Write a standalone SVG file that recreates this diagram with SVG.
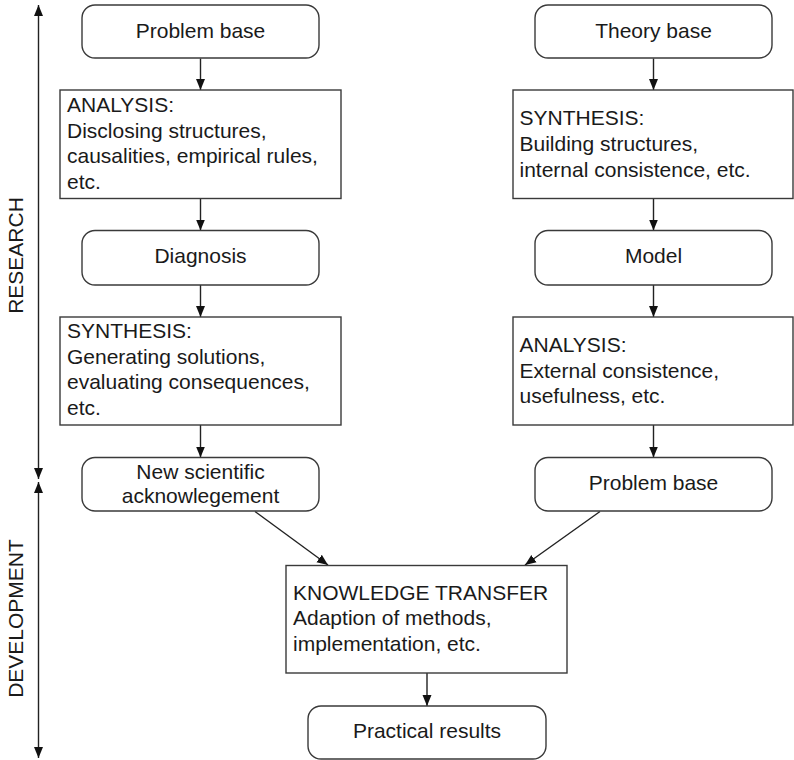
<svg xmlns="http://www.w3.org/2000/svg" width="794" height="760" viewBox="0 0 794 760">
<style>
.box{fill:#fff;stroke:#3a3a3a;stroke-width:1.4}
.t{font-family:"Liberation Sans",Arial,sans-serif;font-size:21px;fill:#1a1a1a}
.c{text-anchor:middle}
.ln{stroke:#222;stroke-width:1.4;fill:none}
</style>
<defs>
<marker id="ah" markerUnits="userSpaceOnUse" markerWidth="12" markerHeight="12" viewBox="0 0 12 12" refX="11" refY="6" orient="auto">
<path d="M0,1.5 L11,6 L0,10.5 Z" fill="#111"/>
</marker>
<marker id="ahs" markerUnits="userSpaceOnUse" markerWidth="12" markerHeight="12" viewBox="0 0 12 12" refX="1" refY="6" orient="auto">
<path d="M12,1.5 L1,6 L12,10.5 Z" fill="#111"/>
</marker>
</defs>
<rect width="794" height="760" fill="#fff"/>

<g id="axis">
<line class="ln" x1="38.5" y1="5" x2="38.5" y2="479" marker-start="url(#ahs)" marker-end="url(#ah)"/>
<line class="ln" x1="38.5" y1="482" x2="38.5" y2="758" marker-start="url(#ahs)" marker-end="url(#ah)"/>
<text class="t c" transform="translate(23,255.5) rotate(-90)">RESEARCH</text>
<text class="t c" transform="translate(23,618.5) rotate(-90)">DEVELOPMENT</text>
</g>

<g id="connectors">
<line class="ln" x1="200.5" y1="58.5" x2="200.5" y2="90" marker-end="url(#ah)"/>
<line class="ln" x1="200.5" y1="198.5" x2="200.5" y2="230.5" marker-end="url(#ah)"/>
<line class="ln" x1="200.5" y1="285" x2="200.5" y2="317" marker-end="url(#ah)"/>
<line class="ln" x1="200.5" y1="425" x2="200.5" y2="457.5" marker-end="url(#ah)"/>
<line class="ln" x1="653.5" y1="58.5" x2="653.5" y2="90" marker-end="url(#ah)"/>
<line class="ln" x1="653.5" y1="198.5" x2="653.5" y2="230.5" marker-end="url(#ah)"/>
<line class="ln" x1="653.5" y1="285" x2="653.5" y2="317" marker-end="url(#ah)"/>
<line class="ln" x1="653.5" y1="425" x2="653.5" y2="457.5" marker-end="url(#ah)"/>
<line class="ln" x1="255" y1="511.5" x2="328" y2="565" marker-end="url(#ah)"/>
<line class="ln" x1="600" y1="511.5" x2="525" y2="565" marker-end="url(#ah)"/>
<line class="ln" x1="427" y1="673" x2="427" y2="706" marker-end="url(#ah)"/>
</g>

<g id="n-problem-base-left">
<rect class="box" x="82" y="5" width="237" height="53" rx="13"/>
<text class="t c" x="200.5" y="37.5">Problem base</text>
</g>
<g id="n-analysis-left">
<rect class="box" x="60" y="90" width="281" height="108.5"/>
<text class="t" x="67" y="111.7">ANALYSIS:</text>
<text class="t" x="67" y="137.5">Disclosing structures,</text>
<text class="t" x="67" y="163">causalities, empirical rules,</text>
<text class="t" x="67" y="188.5">etc.</text>
</g>
<g id="n-diagnosis">
<rect class="box" x="82" y="230.5" width="237" height="54.5" rx="13"/>
<text class="t c" x="200.5" y="263.3">Diagnosis</text>
</g>
<g id="n-synthesis-left">
<rect class="box" x="60" y="317" width="281" height="108"/>
<text class="t" x="67" y="338.3">SYNTHESIS:</text>
<text class="t" x="67" y="363.5">Generating solutions,</text>
<text class="t" x="67" y="389.3">evaluating consequences,</text>
<text class="t" x="67" y="414.5">etc.</text>
</g>
<g id="n-new-scientific">
<rect class="box" x="82" y="457.5" width="237" height="53.5" rx="13"/>
<text class="t c" x="200.5" y="478.5">New scientific</text>
<text class="t c" x="200.5" y="503">acknowlegement</text>
</g>

<g id="n-theory-base">
<rect class="box" x="535" y="5" width="237" height="53" rx="13"/>
<text class="t c" x="653.5" y="37.5">Theory base</text>
</g>
<g id="n-synthesis-right">
<rect class="box" x="513" y="90" width="280" height="108.5"/>
<text class="t" x="519.5" y="125">SYNTHESIS:</text>
<text class="t" x="519.5" y="150.7">Building structures,</text>
<text class="t" x="519.5" y="176.5">internal consistence, etc.</text>
</g>
<g id="n-model">
<rect class="box" x="535" y="230.5" width="237" height="54.5" rx="13"/>
<text class="t c" x="653.5" y="263.3">Model</text>
</g>
<g id="n-analysis-right">
<rect class="box" x="513" y="317" width="280" height="108"/>
<text class="t" x="519.5" y="351.7">ANALYSIS:</text>
<text class="t" x="519.5" y="377.5">External consistence,</text>
<text class="t" x="519.5" y="403">usefulness, etc.</text>
</g>
<g id="n-problem-base-right">
<rect class="box" x="535" y="457.5" width="237" height="53.5" rx="13"/>
<text class="t c" x="653.5" y="490">Problem base</text>
</g>

<g id="n-knowledge-transfer">
<rect class="box" x="286" y="565.5" width="281" height="107.5"/>
<text class="t" x="293" y="600">KNOWLEDGE TRANSFER</text>
<text class="t" x="293" y="625">Adaption of methods,</text>
<text class="t" x="293" y="650.5">implementation, etc.</text>
</g>
<g id="n-practical-results">
<rect class="box" x="308" y="706" width="238" height="53" rx="13"/>
<text class="t c" x="427" y="738">Practical results</text>
</g>
</svg>
